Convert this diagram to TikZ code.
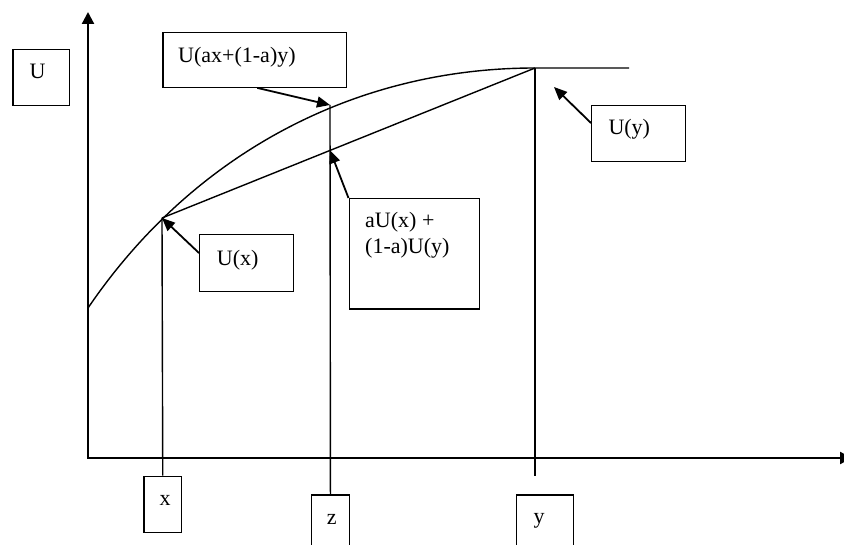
\documentclass[tikz,border=0pt]{standalone}
\usepackage{fontspec}
\setmainfont{Liberation Serif}
\usetikzlibrary{arrows.meta,calc}
\tikzset{
 box/.style={draw, line width=1.2pt, inner sep=0pt, anchor=north west},
 lbl/.style={inner sep=0pt, anchor=base west, font=\fontsize{22}{26.5}\selectfont},
 clbl/.style={inner sep=0pt, anchor=base, font=\fontsize{22}{26.5}\selectfont},
 axisline/.style={line width=2.2pt, {Triangle[length=12pt,width=12pt]}-{Triangle[length=12pt,width=12pt]}},
 ln/.style={line width=1.4pt},
 callout/.style={line width=1.8pt, -{Triangle[length=13pt,width=11pt]}},
}
\begin{document}
\begin{tikzpicture}[x=1pt,y=-1pt]
\useasboundingbox (0,0) rectangle (844,545);
% axes
\coordinate (O) at (88,458);
\coordinate (ytop) at (88,12);
\coordinate (xend) at (852,458);
\draw[axisline] (ytop) -- (O) -- (xend);
% key points
\coordinate (C0) at (88,308);
\coordinate (A) at (162,218);
\coordinate (B) at (535,68);
\coordinate (Cend) at (629,68);
\coordinate (Z) at (330,105);
\coordinate (zc) at (330,150.3);
\coordinate (yend) at (535,476);
\coordinate (yc) at (554,87);
% curve
\draw[ln] (C0) .. controls (193,153.6) and (355,68) .. (B) -- (Cend);
% chord
\draw[ln] (A) -- (B);
% boxes
\node[box, minimum width=56.7pt, minimum height=56pt] (bU) at (12.3,49) {};
\node[box, minimum width=183.7pt, minimum height=55pt] (bUz) at (162.3,31.7) {};
\node[box, minimum width=94pt, minimum height=57pt] (bUx) at (199,234) {};
\node[box, minimum width=130.5pt, minimum height=110.5pt] (bA) at (348.5,198) {};
\node[box, minimum width=94pt, minimum height=56pt] (bUy) at (591,105) {};
\node[box, minimum width=37.7pt, minimum height=56pt] (bx) at (143.3,475.7) {};
\node[box, minimum width=37.7pt, minimum height=60pt] (bz) at (311,494.3) {};
\node[box, minimum width=56.7pt, minimum height=60pt] (by) at (516,494.3) {};
% texts
\node[lbl] (tU) at (29.3,79) {U};
\node[lbl] (tUz) at (178,62.3) {U(ax+(1-a)y)};
\node[lbl] (tUx) at (216.7,265.7) {U(x)};
\node[lbl] (tA1) at (365,227.3) {aU(x) +};
\node[lbl] (tA2) at (365,254) {(1-a)U(y)};
\node[lbl] (tUy) at (608.3,135) {U(y)};
\node[clbl] (tx) at (165,505.7) {x};
\node[clbl] (tz) at (331.7,524.3) {z};
\node[clbl] (ty) at (539,523) {y};
% vertical lines
\draw[ln] (A) -- (bx.north);
\draw[ln] (Z) -- (bz.north);
\draw[ln] (B) -- (yend);
% callouts
\draw[callout] ($(bUz.south west)+(95,0)$) -- (Z);
\draw[callout] (bA.north west) -- (zc);
\draw[callout] ($(bUx.north west)+(0,19)$) -- (A);
\draw[callout] ($(bUy.north west)+(0,18)$) -- (yc);
\end{tikzpicture}
\end{document}
